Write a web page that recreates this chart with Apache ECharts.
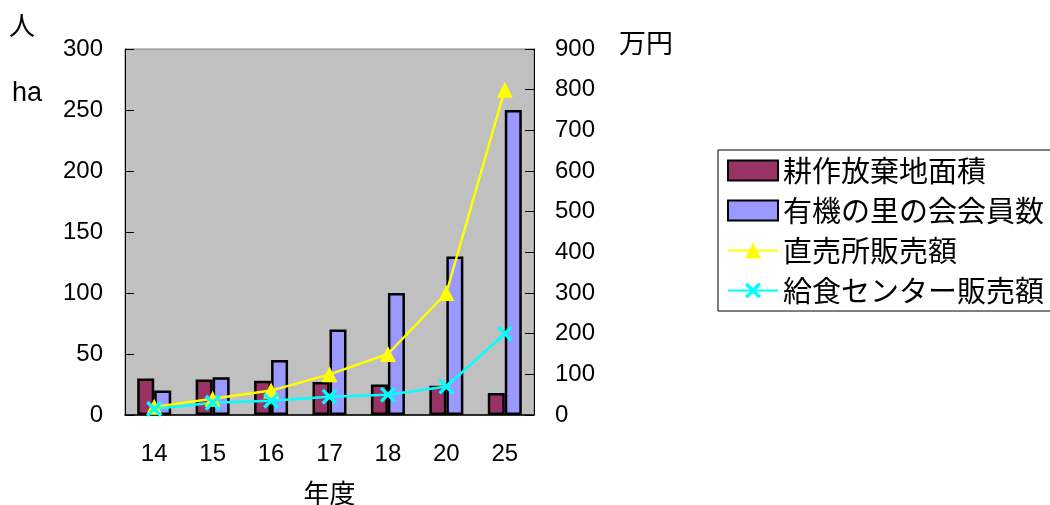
<!DOCTYPE html>
<html><head><meta charset="utf-8">
<script src="https://cdn.jsdelivr.net/npm/echarts@6/dist/echarts.min.js"></script>
<style>html,body{margin:0;padding:0;background:#fff}#c{width:1050px;height:505px}</style>
</head><body><div id="c"></div>
<script>
const categories = ['14','15','16','17','18','20','25'];
const farmland = [30, 29, 28, 27, 25, 24, 18];
const members = [20, 31, 45, 70, 100, 130, 250];
const directSales = [20, 40, 60, 100, 150, 300, 800];
const schoolSales = [15, 30, 35, 45, 50, 70, 200];
const seriesNames = ['耕作放棄地面積','有機の里の会会員数','直売所販売額','給食センター販売額'];

const numFont = 'Liberation Sans, Arial, sans-serif';
const jpFont = 'Noto Sans CJK JP, sans-serif';
const xPath = 'path://M0,1.5L1.5,0L5,3.5L8.5,0L10,1.5L6.5,5L10,8.5L8.5,10L5,6.5L1.5,10L0,8.5L3.5,5Z';

const chart = echarts.init(document.getElementById('c'), null, {renderer:'canvas'});
chart.setOption({
  animation: false,
  backgroundColor: '#fff',
  grid: {left: 125, top: 49, right: 516, bottom: 90, containLabel: false, outerBoundsMode: 'none',
         show: true, backgroundColor: '#c0c0c0', borderColor: '#808080', borderWidth: 1},
  legend: {
    left: 718, top: 150, orient: 'vertical', backgroundColor: '#fff', borderColor: '#000', borderWidth: 1,
    padding: [6, 20, 6, 9], itemWidth: 50, itemHeight: 20, itemGap: 11,
    textStyle: {fontFamily: jpFont, fontSize: 29, color: '#000'},
    data: [
      {name: seriesNames[0], icon: 'rect'},
      {name: seriesNames[1], icon: 'rect'},
      {name: seriesNames[2]},
      {name: seriesNames[3]}
    ]
  },
  graphic: [
    {type:'text', left: 9, top: 12, style:{text:'人', font:'26px ' + jpFont, fill:'#000'}},
    {type:'text', left: 12, top: 80, style:{text:'ha', font:'27px ' + numFont, fill:'#000'}},
    {type:'text', left: 619, top: 29, style:{text:'万円', font:'27px ' + jpFont, fill:'#000'}}
  ],
  xAxis: {
    type: 'category', data: categories, name: '年度', nameLocation: 'middle', nameGap: 65,
    nameTextStyle: {fontFamily: jpFont, fontSize: 26, color: '#000'},
    axisLine: {lineStyle: {color: '#000', width: 1.5}},
    axisTick: {inside: true, length: 7, lineStyle: {color: '#000'}},
    axisLabel: {fontFamily: numFont, fontSize: 24, color: '#000', margin: 27},
    splitLine: {show: false}
  },
  yAxis: [
    {type: 'value', min: 0, max: 300, interval: 50,
     axisLine: {show: true, lineStyle: {color: '#000'}},
     axisTick: {show: true, inside: true, length: 9, lineStyle: {color: '#000'}},
     axisLabel: {fontFamily: numFont, fontSize: 24, color: '#000', margin: 22},
     splitLine: {show: false}},
    {type: 'value', min: 0, max: 900, interval: 100,
     axisLine: {show: true, lineStyle: {color: '#000'}},
     axisTick: {show: true, inside: true, length: 9, lineStyle: {color: '#000'}},
     axisLabel: {fontFamily: numFont, fontSize: 24, color: '#000', margin: 21},
     splitLine: {show: false}}
  ],
  series: [
    {name: seriesNames[0], type: 'bar', data: farmland, barWidth: 17, barGap: '0%',
     itemStyle: {color: '#993366', borderColor: '#000', borderWidth: 2.5}},
    {name: seriesNames[1], type: 'bar', data: members, barWidth: 17, barGap: '0%',
     itemStyle: {color: '#9999ff', borderColor: '#000', borderWidth: 2.5}},
    {name: seriesNames[2], type: 'line', yAxisIndex: 1, data: directSales,
     symbol: 'triangle', symbolSize: 16, lineStyle: {color: '#ffff00', width: 2.5},
     itemStyle: {color: '#ffff00'}},
    {name: seriesNames[3], type: 'line', yAxisIndex: 1, data: schoolSales,
     symbol: xPath, symbolSize: 16, lineStyle: {color: '#00ffff', width: 2.5},
     itemStyle: {color: '#00ffff'}}
  ]
});
</script></body></html>
